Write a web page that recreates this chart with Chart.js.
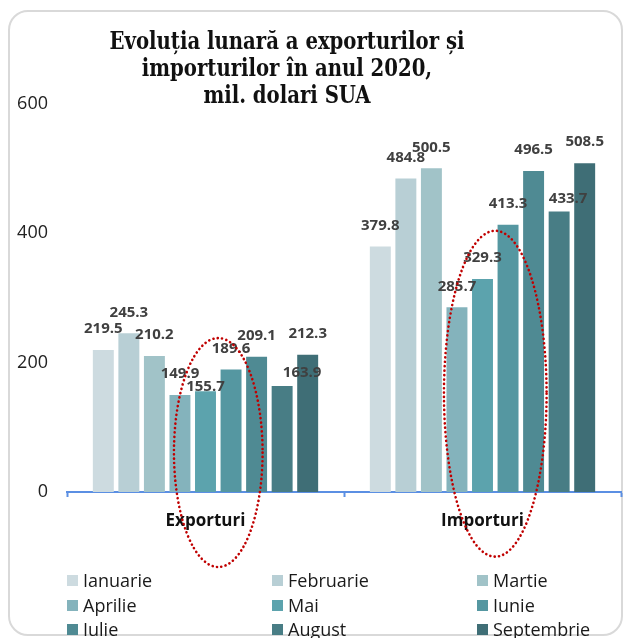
<!DOCTYPE html>
<html lang="ro">
<head>
<meta charset="utf-8">
<script src="https://cdn.jsdelivr.net/npm/chart.js@4.4.1/dist/chart.umd.min.js"></script>
<style>
  html, body { margin: 0; padding: 0; background: #fff; }
  #wrap { position: relative; width: 624px; height: 638px; overflow: hidden; font-family: "Open Sans", sans-serif; }
  #card { position: absolute; left: 8px; top: 10px; width: 611px; height: 622px; border: 2px solid #d9d9d9; border-radius: 20px; }
  #chart { position: absolute; left: 0; top: 0; }
  .title-line { position: absolute; left: 0; width: 574px; height: 30px; line-height: 30px; text-align: center;
    font: bold 24px "DejaVu Serif Condensed", "DejaVu Serif", serif; color: #111; white-space: nowrap; transform-origin: 287px 50%; }
  .leg { position: absolute; height: 24px; line-height: 24px; font-size: 18px; color: #1a1a1a; white-space: nowrap; }
  .leg i { position: absolute; left: 0; top: 7px; width: 11px; height: 11px; }
  .leg span { position: absolute; left: 16px; top: 0; }
</style>
</head>
<body>
<div id="wrap">
  <div id="card"></div>
  <canvas id="chart" width="624" height="638"></canvas>
  <div id="title"></div>
  <div id="legend"></div>
</div>
<script>
/* date: exporturi / importuri pe luni, 2020 */
const titleLines = ['Evoluția lunară a exporturilor și', 'importurilor în anul 2020,', 'mil. dolari SUA'];
const categories = ['Exporturi', 'Importuri'];
const months = ['Ianuarie', 'Februarie', 'Martie', 'Aprilie', 'Mai', 'Iunie', 'Iulie', 'August', 'Septembrie'];
const exportValues = [219.5, 245.3, 210.2, 149.9, 155.7, 189.6, 209.1, 163.9, 212.3];
const importValues = [379.8, 484.8, 500.5, 285.7, 329.3, 413.3, 496.5, 433.7, 508.5];
const yTicks = [0, 200, 400, 600];

const monthColors = ['#cddbe0', '#b8cfd5', '#a1c3c8', '#84b3bc', '#5ca3ad', '#5597a1', '#4f8a93', '#487d85', '#3f6e76'];

// etichete mutate manual (ca in Excel): [categorie, luna, dx, dy]
const labelNudges = [[0, 4, 0, 16], [0, 7, 20, 8], [1, 7, 9, 8]];

// elipsele rosii punctate (Aprilie..Iulie)
const highlights = [
  { cat: 0, from: 3, to: 6, top: 238, bottom: -116, padX: 6 },
  { cat: 1, from: 3, to: 6, top: 404, bottom: -100, padX: 13 },
];

const AXIS_BLUE = '#5b8fe3';

// titlu (HTML, comprimat pe orizontala)
(() => {
  const box = document.getElementById('title');
  const centers = [41, 68, 95];
  const cv = document.createElement('canvas').getContext('2d');
  cv.font = 'bold 24px "DejaVu Serif Condensed", "DejaVu Serif", serif';
  const scale = 355 / cv.measureText(titleLines[0]).width;
  titleLines.forEach((t, i) => {
    const d = document.createElement('div');
    d.className = 'title-line';
    d.textContent = t;
    d.style.top = (centers[i] - 15) + 'px';
    d.style.transform = `scaleX(${scale.toFixed(3)})`;
    box.appendChild(d);
  });
})();

// legenda 3 x 3
(() => {
  const box = document.getElementById('legend');
  const colX = [67, 272, 477];
  const rowY = [580, 604.5, 629];
  months.forEach((m, i) => {
    const d = document.createElement('div');
    d.className = 'leg';
    d.style.left = colX[i % 3] + 'px';
    d.style.top = (rowY[Math.floor(i / 3)] - 12) + 'px';
    d.innerHTML = `<i style="background:${monthColors[i]}"></i><span>${m}</span>`;
    box.appendChild(d);
  });
})();

const valueLabels = {
  id: 'valueLabels',
  afterDatasetsDraw(chart) {
    const ctx = chart.ctx;
    ctx.save();
    ctx.font = 'bold 15px "Open Sans", sans-serif';
    ctx.fillStyle = '#404040';
    ctx.textAlign = 'center';
    ctx.textBaseline = 'middle';
    chart.data.datasets.forEach((ds, i) => {
      chart.getDatasetMeta(i).data.forEach((el, c) => {
        const n = labelNudges.find(a => a[0] === c && a[1] === i);
        const dx = n ? n[2] : 0, dy = n ? n[3] : 0;
        ctx.fillText(ds.data[c].toFixed(1), el.x + dx, el.y - 21 + dy);
      });
    });
    ctx.restore();
  }
};

const ellipses = {
  id: 'ellipses',
  afterDraw(chart) {
    const ctx = chart.ctx;
    const y = chart.scales.y;
    ctx.save();
    ctx.strokeStyle = '#c00000';
    ctx.lineWidth = 2.6;
    ctx.lineCap = 'round';
    ctx.setLineDash([0.1, 4.3]);
    highlights.forEach(h => {
      const a = chart.getDatasetMeta(h.from).data[h.cat];
      const b = chart.getDatasetMeta(h.to).data[h.cat];
      const cx = (a.x + b.x) / 2;
      const rx = (b.x - a.x) / 2 + h.padX;
      const yt = y.getPixelForValue(h.top), yb = y.getPixelForValue(h.bottom);
      ctx.beginPath();
      ctx.ellipse(cx, (yt + yb) / 2, rx, (yb - yt) / 2, 0, 0, Math.PI * 2);
      ctx.stroke();
    });
    ctx.restore();
  }
};

new Chart(document.getElementById('chart'), {
  type: 'bar',
  data: {
    labels: categories,
    datasets: months.map((m, i) => ({
      label: m,
      data: [exportValues[i], importValues[i]],
      backgroundColor: monthColors[i],
      borderWidth: 0,
      categoryPercentage: 0.83,
      barPercentage: 0.82,
    })),
  },
  options: {
    responsive: false,
    animation: false,
    layout: { padding: { top: 104, right: 3, left: 0, bottom: 0 } },
    plugins: { legend: { display: false }, title: { display: false }, tooltip: { enabled: false } },
    scales: {
      x: {
        grid: { display: true, drawOnChartArea: false, drawTicks: true, tickLength: 5, tickColor: AXIS_BLUE, tickWidth: 2, offset: true },
        border: { display: true, color: AXIS_BLUE, width: 2 },
        ticks: { color: '#111', font: { family: 'Open Sans', size: 17, weight: 'bold' }, padding: 14 },
        afterFit: s => { s.height = 146; },
      },
      y: {
        min: yTicks[0], max: yTicks[yTicks.length - 1],
        grid: { display: false },
        border: { display: false },
        ticks: { stepSize: 200, color: '#222', font: { family: 'Open Sans', size: 18 }, padding: 11 },
        afterFit: s => { s.width = 67; },
      },
    },
  },
  plugins: [valueLabels, ellipses],
});
</script>
</body>
</html>
